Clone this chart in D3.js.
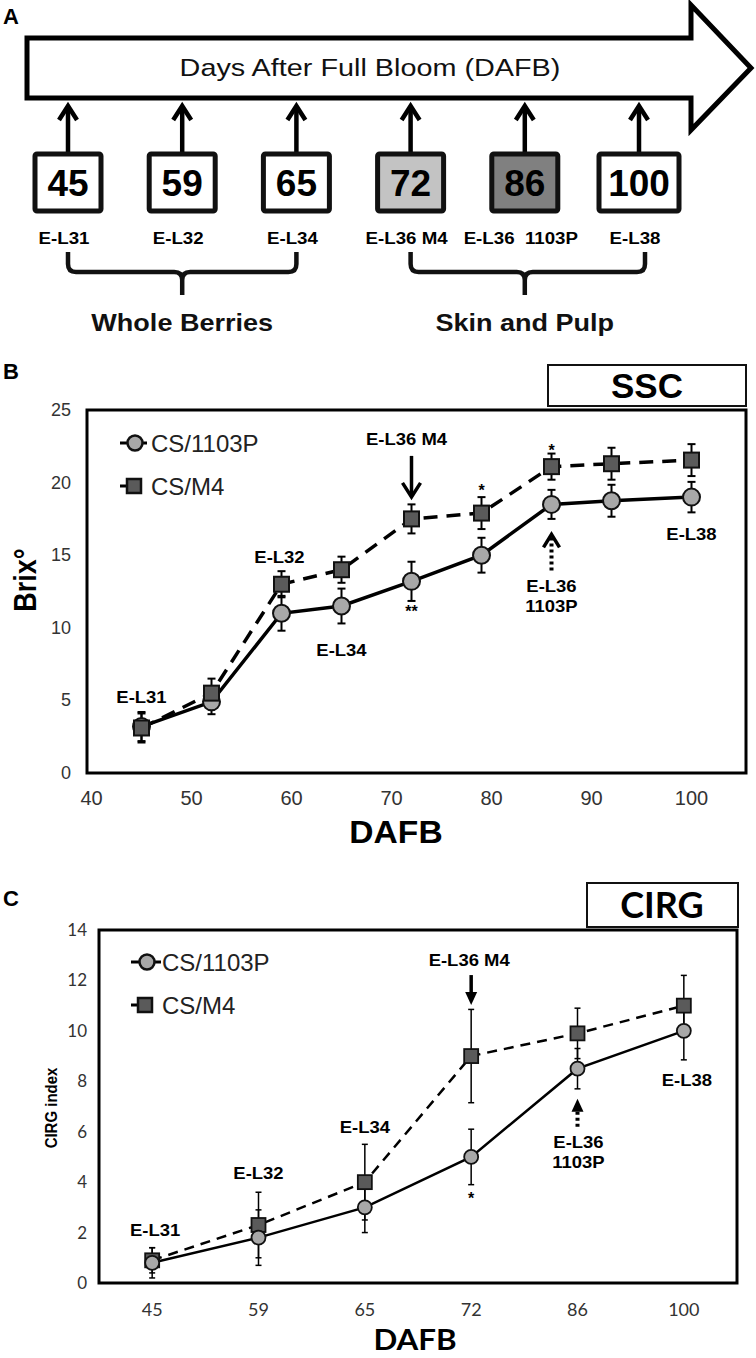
<!DOCTYPE html>
<html><head><meta charset="utf-8">
<script src="https://cdn.jsdelivr.net/npm/d3@7"></script>
<style>body{margin:0;background:#fff}svg{display:block}</style>
</head><body>
<svg id="c" width="756" height="1358"></svg>
<script>
// ---------- DATA ----------
const timelineDays = ["45","59","65","72","86","100"];
const timelineStages = ["E-L31","E-L32","E-L34","E-L36 M4","E-L36  1103P","E-L38"];
const groupLabels = ["Whole Berries","Skin and Pulp"];
const groupSpans = [["45","65"],["72","100"]];

const sscDays = [45,52,59,65,72,79,86,92,100];
const ssc1103P = [3.2,4.9,11.0,11.5,13.2,15.0,18.5,18.75,19.0];
const ssc1103PErr = [1.0,0.85,1.2,1.2,1.35,1.2,1.0,1.1,1.05];
const sscM4 = [3.1,5.5,13.0,14.0,17.5,17.9,21.1,21.3,21.55];
const sscM4Err = [1.0,1.0,0.9,0.9,1.0,1.1,0.9,1.1,1.1];
const sscXTicks = [40,50,60,70,80,90,100];
const sscYTicks = [0,5,10,15,20,25];

const cirgDays = ["45","59","65","72","86","100"];
const cirg1103P = [0.8,1.8,3.0,5.0,8.5,10.0];
const cirg1103PErr = [0.6,1.1,1.0,1.1,0.8,1.15];
const cirgM4 = [0.9,2.3,4.0,9.0,9.9,11.0];
const cirgM4Err = [0.5,1.3,1.5,1.85,1.0,1.2];
const cirgYTicks = [0,2,4,6,8,10,12,14];

const seriesNames = ["CS/1103P","CS/M4"];

// ---------- STYLE ----------
const AR = "'Liberation Sans', Arial, sans-serif";
const LA = "Lato, 'Open Sans', sans-serif";
const CIRCLE_FILL = "#a8a8a8", SQUARE_FILL = "#5a5a5a";
const boxFill = {"72":"#c3c3c3","86":"#808080"};

const svg = d3.select("#c");
svg.append("rect").attr("width",756).attr("height",1358).attr("fill","#fff");

function text(g, x, y, s, o={}) {
  const sx = o.sx || 1;
  let tr = `translate(${x},${y})`;
  if (o.rotate) tr += ` rotate(${o.rotate})`;
  if (o.rotate) tr += ` scale(1,${sx})`; else tr += ` scale(${sx},1)`;
  return g.append("text").attr("transform", tr)
    .attr("text-anchor", o.anchor || "middle")
    .attr("font-family", o.font || AR)
    .attr("font-size", o.size || 16)
    .attr("font-weight", o.bold ? "bold" : "normal")
    .attr("fill", o.fill || "#000")
    .style("white-space", "pre")
    .text(s);
}
function chevron(g, x, tipY, dir, len, half, w) {
  g.append("path")
    .attr("d", `M${x-half},${tipY - dir*len} L${x},${tipY} L${x+half},${tipY - dir*len}`)
    .attr("fill","none").attr("stroke","#000").attr("stroke-width",w)
    .attr("stroke-linejoin","miter").attr("stroke-linecap","butt");
}
function triHead(g, x, tipY, dir, len, half) {
  g.append("path")
    .attr("d", `M${x-half},${tipY - dir*len} L${x},${tipY} L${x+half},${tipY - dir*len} Z`)
    .attr("fill","#000");
}

// ---------- PANEL A ----------
const A = svg.append("g");
text(A, 3, 24, "A", {anchor:"start", bold:true, size:22});
A.append("path").attr("d","M27,38 L691,38 L691,5 L751,68 L691,130 L691,98 L27,98 Z")
  .attr("fill","#fff").attr("stroke","#000").attr("stroke-width",5).attr("stroke-linejoin","miter");
text(A, 370, 76, "Days After Full Bloom (DAFB)", {size:24, sx:1.2, fill:"#111"});

const xA = d3.scalePoint().domain(timelineDays).range([68, 639]);
timelineDays.forEach((d, i) => {
  const cx = xA(d);
  A.append("line").attr("x1",cx).attr("x2",cx).attr("y1",153).attr("y2",108)
    .attr("stroke","#000").attr("stroke-width",4.5);
  chevron(A, cx, 106, -1, 14, 9, 4.5);
  const w = d.length > 2 ? 80 : 66;
  A.append("rect").attr("x",cx - w/2).attr("y",154).attr("width",w).attr("height",57)
    .attr("rx",2).attr("fill", boxFill[d] || "#fff").attr("stroke","#111").attr("stroke-width",5);
  text(A, cx, 196, d, {bold:true, size:37});
  text(A, cx - 4, 244, timelineStages[i], {bold:true, size:17, sx:1.1});
});
groupSpans.forEach((s, i) => {
  const x1 = xA(s[0]), x2 = xA(s[1]) + (i === 1 ? 6 : 0), m = (xA(s[0]) + xA(s[1])) / 2;
  A.append("path")
    .attr("d", `M${x1},252 L${x1},264 Q${x1},272 ${x1+8},272 L${m-8},272 Q${m},272 ${m},280 L${m},295
               M${m},280 Q${m},272 ${m+8},272 L${x2-8},272 Q${x2},272 ${x2},264 L${x2},252`)
    .attr("fill","none").attr("stroke","#111").attr("stroke-width",4.5);
  text(A, m, 331, groupLabels[i], {bold:true, size:23.5, sx:1.15, fill:"#111"});
});

// ---------- PANEL B ----------
const B = svg.append("g");
text(B, 3, 379, "B", {anchor:"start", bold:true, size:22});
B.append("rect").attr("x",548).attr("y",365).attr("width",198).attr("height",41)
  .attr("fill","#fff").attr("stroke","#111").attr("stroke-width",2);
text(B, 647, 398, "SSC", {bold:true, size:35});

const bL = 87, bR = 746, bT = 410, bBot = 773;
const xB = d3.scaleLinear().domain([40,100]).range([91.5, 691.5]);
const yB = d3.scaleLinear().domain([0,25]).range([bBot, bT]);
B.append("rect").attr("x",bL).attr("y",bT).attr("width",bR-bL).attr("height",bBot-bT)
  .attr("fill","none").attr("stroke","#000").attr("stroke-width",3);
sscXTicks.forEach(t => text(B, xB(t), 805, t, {size:20, fill:"#333"}));
sscYTicks.forEach(t => text(B, 71, yB(t)+6, t, {size:18, fill:"#333", anchor:"end"}));
text(B, 36, 580, "Brix°", {bold:true, size:27, rotate:-90, sx:1.15});
text(B, 396, 843, "DAFB", {bold:true, size:32, sx:1.05});

const ssc1 = sscDays.map((d,i)=>({x:d, y:ssc1103P[i], e:ssc1103PErr[i]}));
const ssc2 = sscDays.map((d,i)=>({x:d, y:sscM4[i], e:sscM4Err[i]}));
const lineB = d3.line().x(d=>xB(d.x)).y(d=>yB(d.y));

function errBars(g, data, xf, yf, cap, w) {
  data.forEach(d => {
    const x = xf(d.x), y1 = yf(d.y - d.e), y2 = yf(d.y + d.e);
    g.append("line").attr("x1",x).attr("x2",x).attr("y1",y1).attr("y2",y2).attr("stroke","#000").attr("stroke-width",w);
    [y1,y2].forEach(y => g.append("line").attr("x1",x-cap).attr("x2",x+cap).attr("y1",y).attr("y2",y).attr("stroke","#000").attr("stroke-width",w));
  });
}
function circles(g, data, xf, yf, r, sw) {
  g.selectAll(null).data(data).join("circle").attr("cx",d=>xf(d.x)).attr("cy",d=>yf(d.y)).attr("r",r)
    .attr("fill",CIRCLE_FILL).attr("stroke","#111").attr("stroke-width",sw);
}
function squares(g, data, xf, yf, s, sw) {
  g.selectAll(null).data(data).join("rect").attr("x",d=>xf(d.x)-s/2).attr("y",d=>yf(d.y)-s/2)
    .attr("width",s).attr("height",s).attr("fill",SQUARE_FILL).attr("stroke","#111").attr("stroke-width",sw);
}

B.append("path").attr("d",lineB(ssc1)).attr("fill","none").attr("stroke","#000").attr("stroke-width",3.5);
B.append("path").attr("d",lineB(ssc2)).attr("fill","none").attr("stroke","#000").attr("stroke-width",3.5).attr("stroke-dasharray","14,9");
errBars(B, ssc1, xB, yB, 4, 2);
errBars(B, ssc2, xB, yB, 4, 2);
circles(B, ssc1, xB, yB, 8.5, 2);
squares(B, ssc2, xB, yB, 15, 2);

// legend B
B.append("line").attr("x1",120).attr("x2",147).attr("y1",443).attr("y2",443).attr("stroke","#000").attr("stroke-width",3);
B.append("circle").attr("cx",135).attr("cy",443).attr("r",7.5).attr("fill",CIRCLE_FILL).attr("stroke","#111").attr("stroke-width",2.5);
text(B, 151, 452, seriesNames[0], {anchor:"start", size:24, fill:"#222"});
B.append("line").attr("x1",120).attr("x2",134).attr("y1",486).attr("y2",486).attr("stroke","#000").attr("stroke-width",3);
B.append("rect").attr("x",127).attr("y",479).attr("width",14).attr("height",14).attr("fill",SQUARE_FILL).attr("stroke","#111").attr("stroke-width",2.5);
text(B, 151, 495, seriesNames[1], {anchor:"start", size:24, fill:"#222"});

// annotations B
const pB = (d, arr) => yB(arr[sscDays.indexOf(d)]);
const LBL = {bold:true, size:16.5, sx:1.12};
text(B, xB(45), pB(45, ssc1103P) - 24, "E-L31", LBL);
text(B, xB(59) - 2, pB(59, sscM4) - 21, "E-L32", LBL);
text(B, xB(65), pB(65, ssc1103P) + 50, "E-L34", LBL);
text(B, xB(72) - 5, pB(72, sscM4) - 74, "E-L36 M4", LBL);
text(B, xB(86), pB(86, ssc1103P) + 88, "E-L36", LBL);
text(B, xB(86), pB(86, ssc1103P) + 108, "1103P", LBL);
text(B, xB(100), pB(100, ssc1103P) + 43, "E-L38", LBL);
text(B, xB(79), pB(79, sscM4) - 17, "*", {bold:true, size:16});
text(B, xB(86), pB(86, sscM4) - 11, "*", {bold:true, size:16});
text(B, xB(72), pB(72, ssc1103P) + 36, "**", {bold:true, size:16});
{
  const x = xB(72), y0 = pB(72, sscM4);
  B.append("line").attr("x1",x).attr("x2",x).attr("y1",y0-63).attr("y2",y0-24).attr("stroke","#000").attr("stroke-width",3.5);
  chevron(B, x, y0-22, 1, 14, 9, 3.5);
  const x2 = xB(86), y1 = pB(86, ssc1103P);
  B.append("line").attr("x1",x2).attr("x2",x2).attr("y1",y1+66).attr("y2",y1+33).attr("stroke","#000").attr("stroke-width",4).attr("stroke-dasharray","3,3");
  chevron(B, x2, y1+30, -1, 13, 8, 3.5);
}

// ---------- PANEL C ----------
const C = svg.append("g");
text(C, 3, 906, "C", {anchor:"start", bold:true, size:22});
C.append("rect").attr("x",587).attr("y",883).attr("width",151).attr("height",44)
  .attr("fill","#fff").attr("stroke","#111").attr("stroke-width",2);
text(C, 662, 918, "CIRG", {bold:true, size:36, font:LA});

const cL = 99, cR = 737, cT = 930, cBot = 1283;
const xC = d3.scalePoint().domain(cirgDays).range([cL, cR]).padding(0.5);
const yC = d3.scaleLinear().domain([0,14]).range([cBot, cT]);
C.append("rect").attr("x",cL).attr("y",cT).attr("width",cR-cL).attr("height",cBot-cT)
  .attr("fill","none").attr("stroke","#000").attr("stroke-width",3);
cirgDays.forEach(t => text(C, xC(t), 1316, t, {size:18, fill:"#333", font:LA}));
cirgYTicks.forEach(t => text(C, 87, yC(t)+6, t, {size:17, fill:"#333", font:LA, anchor:"end"}));
text(C, 57, 1108, "CIRG index", {bold:true, size:15, rotate:-90, sx:1.1});
text(C, 415, 1350, "DAFB", {bold:true, size:29, font:LA, sx:1.08});

const cg1 = cirgDays.map((d,i)=>({x:d, y:cirg1103P[i], e:cirg1103PErr[i]}));
const cg2 = cirgDays.map((d,i)=>({x:d, y:cirgM4[i], e:cirgM4Err[i]}));
const lineC = d3.line().x(d=>xC(d.x)).y(d=>yC(d.y));
C.append("path").attr("d",lineC(cg2)).attr("fill","none").attr("stroke","#000").attr("stroke-width",2.5).attr("stroke-dasharray","10,7");
C.append("path").attr("d",lineC(cg1)).attr("fill","none").attr("stroke","#000").attr("stroke-width",2.5);
errBars(C, cg2, xC, yC, 3, 1.5);
errBars(C, cg1, xC, yC, 3, 1.5);
squares(C, cg2, xC, yC, 14, 1.8);
circles(C, cg1, xC, yC, 7, 1.8);

// legend C
C.append("line").attr("x1",131).attr("x2",161).attr("y1",962).attr("y2",962).attr("stroke","#000").attr("stroke-width",3);
C.append("circle").attr("cx",147).attr("cy",962).attr("r",7.5).attr("fill",CIRCLE_FILL).attr("stroke","#111").attr("stroke-width",2.5);
text(C, 162, 971, seriesNames[0], {anchor:"start", size:24, fill:"#222"});
C.append("line").attr("x1",131).attr("x2",145).attr("y1",1005).attr("y2",1005).attr("stroke","#000").attr("stroke-width",3);
C.append("rect").attr("x",138).attr("y",998).attr("width",14).attr("height",14).attr("fill",SQUARE_FILL).attr("stroke","#111").attr("stroke-width",2.5);
text(C, 162, 1014, seriesNames[1], {anchor:"start", size:24, fill:"#222"});

// annotations C
const pC = (d, arr) => yC(arr[cirgDays.indexOf(d)]);
text(C, xC("45") + 3, pC("45", cirg1103P) - 27, "E-L31", LBL);
text(C, xC("59"), pC("59", cirgM4) - 46, "E-L32", LBL);
text(C, xC("65"), pC("65", cirgM4) - 49, "E-L34", LBL);
text(C, xC("72") - 2, pC("72", cirgM4) - 90, "E-L36 M4", LBL);
text(C, xC("100") + 3, pC("100", cirg1103P) + 55, "E-L38", LBL);
text(C, xC("86") + 1, pC("86", cirg1103P) + 79, "E-L36", LBL);
text(C, xC("86") + 1, pC("86", cirg1103P) + 99, "1103P", LBL);
text(C, xC("72"), pC("72", cirg1103P) + 47, "*", {bold:true, size:16});
{
  const x = xC("72"), y0 = pC("72", cirgM4);
  C.append("line").attr("x1",x).attr("x2",x).attr("y1",y0-81).attr("y2",y0-60).attr("stroke","#000").attr("stroke-width",3.5);
  triHead(C, x, y0-51, 1, 13, 6);
  const x2 = xC("86"), y1 = pC("86", cirg1103P);
  C.append("line").attr("x1",x2).attr("x2",x2).attr("y1",y1+58).attr("y2",y1+42).attr("stroke","#000").attr("stroke-width",4).attr("stroke-dasharray","3,3");
  triHead(C, x2, y1+30, -1, 13, 6);
}
</script>
</body></html>
